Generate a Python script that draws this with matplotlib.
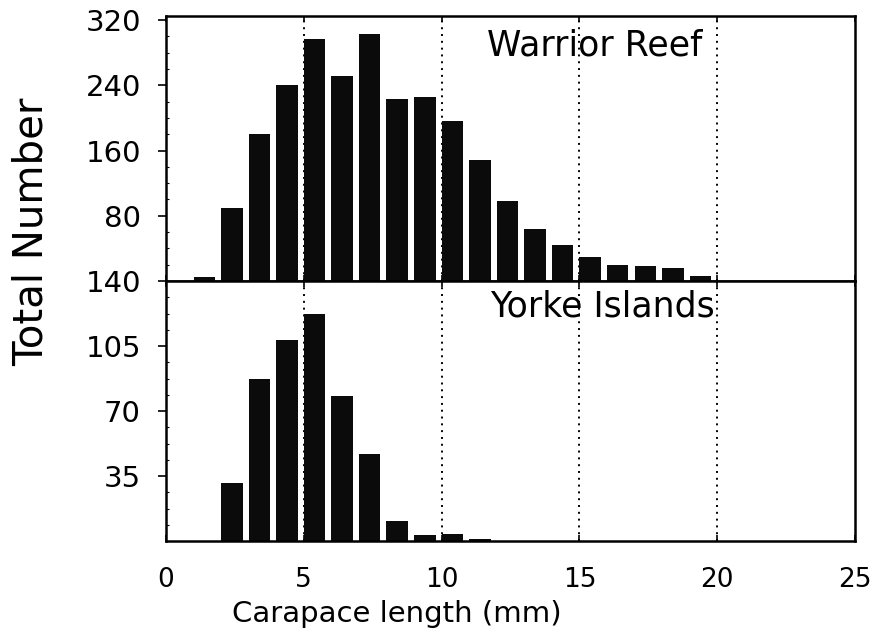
import matplotlib
matplotlib.use("Agg")
import matplotlib.pyplot as plt
from matplotlib.ticker import FixedLocator, MultipleLocator


# carapace length classes (mm, left edge of each class)
warrior_len = [1, 2, 3, 4, 5, 6, 7, 8, 9, 10, 11, 12, 13, 14, 15, 16, 17, 18, 19]
warrior_n = [5, 90, 180, 240, 297, 252, 303, 223, 226, 196, 148, 98, 64, 44, 30, 20, 18, 16, 6]

yorke_len = [2, 3, 4, 5, 6, 7, 8, 9, 10, 11]
yorke_n = [31, 87, 108, 122, 78, 47, 11, 3, 4, 1]

warrior_ticks = [80, 160, 240, 320]
yorke_ticks = [35, 70, 105, 140]
x_ticks = [0, 5, 10, 15, 20, 25]
grid_x = [5, 10, 15, 20]


def style_axis(ax, yticks):
    ax.set_xlim(0, 25)
    ax.yaxis.set_major_locator(FixedLocator(yticks))
    ax.yaxis.set_minor_locator(MultipleLocator(yticks[0] / 4))
    ax.tick_params(axis='y', which='major', direction='out', length=6, width=1.2,
                   labelsize=21, pad=12)
    ax.tick_params(axis='y', which='minor', direction='in', length=2, width=0.8)
    ax.tick_params(axis='x', which='major', direction='in', length=4, width=1.2,
                   labelsize=19, pad=19, top=True)
    for s in ax.spines.values():
        s.set_linewidth(1.8)
    for gx in grid_x:
        ax.axvline(gx, color='black', linestyle=(0, (1, 2.5)), linewidth=1.4, zorder=1)


def main():
    fig = plt.figure(figsize=(8.75, 6.37), dpi=100)
    left, right = 166 / 875, 855 / 875
    mid = 1 - 281 / 637
    top = 1 - 16 / 637
    bottom = 1 - 541 / 637

    ax_top = fig.add_axes([left, mid, right - left, top - mid])
    ax_bot = fig.add_axes([left, bottom, right - left, mid - bottom], sharex=ax_top)

    ax_top.bar(warrior_len, warrior_n, width=0.78, align='edge', color='#0b0b0b', zorder=2)
    ax_bot.bar(yorke_len, yorke_n, width=0.78, align='edge', color='#0b0b0b', zorder=2)

    style_axis(ax_top, warrior_ticks)
    style_axis(ax_bot, yorke_ticks)
    ax_top.set_ylim(0, 325)
    ax_bot.set_ylim(0, 140)

    ax_top.tick_params(axis='x', labelbottom=False)
    ax_bot.xaxis.set_major_locator(FixedLocator(x_ticks))

    ax_top.text(11.66, 277, 'Warrior Reef', fontsize=25, ha='left', va='baseline')
    ax_bot.text(11.77, 121, 'Yorke Islands', fontsize=25, ha='left', va='baseline')

    fig.text(0.036, 0.636, 'Total Number', rotation=90, fontsize=29,
             ha='center', va='center')
    fig.text(0.454, 0.036, 'Carapace length (mm)', fontsize=21,
             ha='center', va='center')

    fig.savefig('out.png', dpi=100)


if __name__ == '__main__':
    main()
